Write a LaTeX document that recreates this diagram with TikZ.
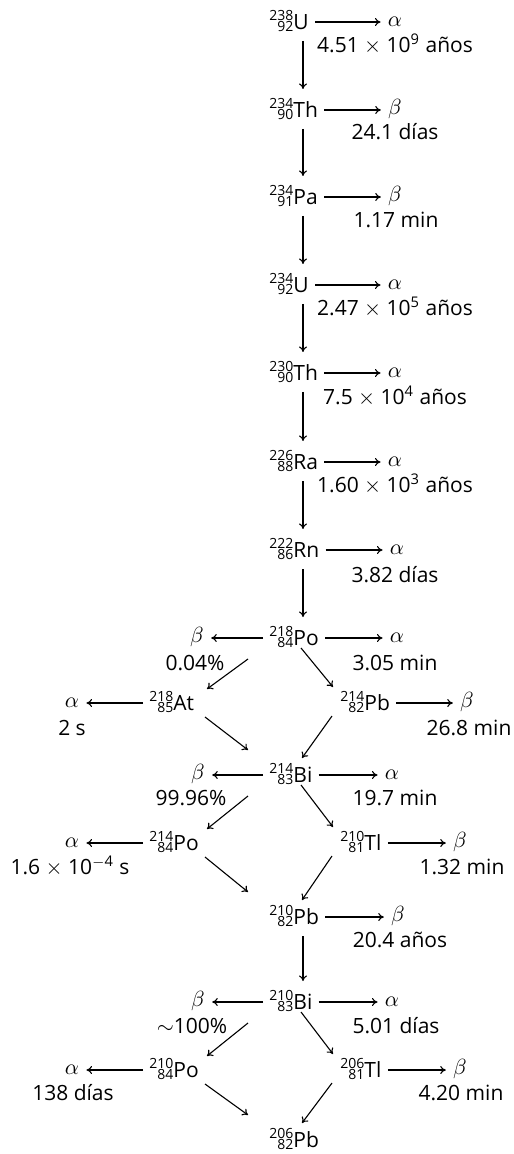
\documentclass[tikz,border=0pt]{standalone}
\usepackage{fontspec}
\setmainfont{Open Sans}
\usetikzlibrary{arrows.meta,positioning}
\newcommand{\nuc}[3]{\raisebox{-1.2pt}{\fontsize{7}{7}\selectfont\begin{tabular}[b]{@{}r@{}}#1\\[-1.6pt]#2\end{tabular}}#3}

\begin{document}
\begin{tikzpicture}[x=0.5pt,y=-0.5pt,>={To[length=2.8pt,width=4pt]},
  every node/.style={font=\fontsize{10.5}{12}\selectfont},
  nuc/.style={anchor=west,inner sep=0pt,text height=7.5pt,text depth=0pt},
  mode/.style={inner sep=0pt,text height=4.4pt,text depth=0pt},
  time/.style={inner sep=0pt,text height=7.5pt,text depth=0pt},
  decay/.style={->,line width=0.55pt,shorten <=3pt,shorten >=3.5pt},
  chain/.style={->,line width=0.55pt}]
\useasboundingbox (0,0) rectangle (513,1154);
\node[nuc] (u238) at (269,22) {\nuc{238}{92}{U}};
\node[mode] (u238m) at (395,22) {$\alpha$};
\node[time] (u238t) at (395,45) {4.51 $\times$ 10\textsuperscript{9} años};
\node[nuc] (th234) at (269,110) {\nuc{234}{90}{Th}};
\node[mode] (th234m) at (395,110) {$\beta$};
\node[time] (th234t) at (395,132) {24.1 días};
\node[nuc] (pa234) at (269,197) {\nuc{234}{91}{Pa}};
\node[mode] (pa234m) at (395,197) {$\beta$};
\node[time] (pa234t) at (396,220) {1.17 min};
\node[nuc] (u234) at (269,285) {\nuc{234}{92}{U}};
\node[mode] (u234m) at (395,285) {$\alpha$};
\node[time] (u234t) at (395,308) {2.47 $\times$ 10\textsuperscript{5} años};
\node[nuc] (th230) at (269,373) {\nuc{230}{90}{Th}};
\node[mode] (th230m) at (395,373) {$\alpha$};
\node[time] (th230t) at (395,397) {7.5 $\times$ 10\textsuperscript{4} años};
\node[nuc] (ra226) at (269,462) {\nuc{226}{88}{Ra}};
\node[mode] (ra226m) at (395,462) {$\alpha$};
\node[time] (ra226t) at (395,485) {1.60 $\times$ 10\textsuperscript{3} años};
\node[nuc] (rn222) at (269,550) {\nuc{222}{86}{Rn}};
\node[mode] (rn222m) at (397,550) {$\alpha$};
\node[time] (rn222t) at (395,575) {3.82 días};
\node[nuc] (po218) at (269,638) {\nuc{218}{84}{Po}};
\node[mode] (po218m) at (397,638) {$\alpha$};
\node[time] (po218t) at (395,663) {3.05 min};
\node[mode] (po218l) at (197,638) {$\beta$};
\node[time] (po218lt) at (195,663) {0.04\%};
\node[nuc] (at218) at (149,703) {\nuc{218}{85}{At}};
\node[mode] (at218m) at (72,703) {$\alpha$};
\node[time] (at218t) at (72,728) {2 s};
\node[nuc] (pb214) at (340,703) {\nuc{214}{82}{Pb}};
\node[mode] (pb214m) at (467,703) {$\beta$};
\node[time] (pb214t) at (469,728) {26.8 min};
\node[nuc] (bi214) at (269,775) {\nuc{214}{83}{Bi}};
\node[mode] (bi214m) at (392,775) {$\alpha$};
\node[time] (bi214t) at (395,798) {19.7 min};
\node[mode] (bi214l) at (198,775) {$\beta$};
\node[time] (bi214lt) at (191,798) {99.96\%};
\node[nuc] (po214) at (149,843) {\nuc{214}{84}{Po}};
\node[mode] (po214m) at (72,843) {$\alpha$};
\node[time] (po214t) at (70,867) {1.6 $\times$ 10\textsuperscript{$-$4} s};
\node[nuc] (tl210) at (340,843) {\nuc{210}{81}{Tl}};
\node[mode] (tl210m) at (460,843) {$\beta$};
\node[time] (tl210t) at (462,867) {1.32 min};
\node[nuc] (pb210) at (269,917) {\nuc{210}{82}{Pb}};
\node[mode] (pb210m) at (398,917) {$\beta$};
\node[time] (pb210t) at (400,940) {20.4 años};
\node[nuc] (bi210) at (269,1002) {\nuc{210}{83}{Bi}};
\node[mode] (bi210m) at (392,1002) {$\alpha$};
\node[time] (bi210t) at (396,1026) {5.01 días};
\node[mode] (bi210l) at (198,1002) {$\beta$};
\node[time] (bi210lt) at (192,1026) {$\sim$100\%};
\node[nuc] (po210) at (149,1070) {\nuc{210}{84}{Po}};
\node[mode] (po210m) at (72,1070) {$\alpha$};
\node[time] (po210t) at (73,1093) {138 días};
\node[nuc] (tl206) at (340,1070) {\nuc{206}{81}{Tl}};
\node[mode] (tl206m) at (460,1070) {$\beta$};
\node[time] (tl206t) at (461,1093) {4.20 min};
\node[nuc] (pb206) at (269,1140) {\nuc{206}{82}{Pb}};
\draw[decay] (u238) -- (u238m);
\draw[decay] (th234) -- (th234m);
\draw[decay] (pa234) -- (pa234m);
\draw[decay] (u234) -- (u234m);
\draw[decay] (th230) -- (th230m);
\draw[decay] (ra226) -- (ra226m);
\draw[decay] (rn222) -- (rn222m);
\draw[decay] (po218) -- (po218m);
\draw[decay] (po218) -- (po218l);
\draw[decay] (at218) -- (at218m);
\draw[decay] (pb214) -- (pb214m);
\draw[decay] (bi214) -- (bi214m);
\draw[decay] (bi214) -- (bi214l);
\draw[decay] (po214) -- (po214m);
\draw[decay] (tl210) -- (tl210m);
\draw[decay] (pb210) -- (pb210m);
\draw[decay] (bi210) -- (bi210m);
\draw[decay] (bi210) -- (bi210l);
\draw[decay] (po210) -- (po210m);
\draw[decay] (tl206) -- (tl206m);
\draw[chain] ([shift={(34,19)}]u238.west) -- ([shift={(34,-21)}]th234.west);
\draw[chain] ([shift={(34,19)}]th234.west) -- ([shift={(34,-21)}]pa234.west);
\draw[chain] ([shift={(34,19)}]pa234.west) -- ([shift={(34,-21)}]u234.west);
\draw[chain] ([shift={(34,19)}]u234.west) -- ([shift={(34,-21)}]th230.west);
\draw[chain] ([shift={(34,19)}]th230.west) -- ([shift={(34,-21)}]ra226.west);
\draw[chain] ([shift={(34,19)}]ra226.west) -- ([shift={(34,-21)}]rn222.west);
\draw[chain] ([shift={(34,19)}]rn222.west) -- ([shift={(34,-21)}]po218.west);
\draw[chain] ([shift={(34,19)}]pb210.west) -- ([shift={(34,-21)}]bi210.west);
\draw[chain] ([shift={(-21,21)}]po218.west) -- ([shift={(58,-14)}]at218.west);
\draw[chain] ([shift={(32,10)}]po218.west) -- ([shift={(-7,-16)}]pb214.west);
\draw[chain] ([shift={(56,14)}]at218.west) -- ([shift={(-21,-25)}]bi214.west);
\draw[chain] ([shift={(-8,13)}]pb214.west) -- ([shift={(33,-17)}]bi214.west);
\draw[chain] ([shift={(-21,21)}]bi214.west) -- ([shift={(58,-14)}]po214.west);
\draw[chain] ([shift={(32,10)}]bi214.west) -- ([shift={(-7,-16)}]tl210.west);
\draw[chain] ([shift={(56,14)}]po214.west) -- ([shift={(-21,-25)}]pb210.west);
\draw[chain] ([shift={(-8,13)}]tl210.west) -- ([shift={(33,-17)}]pb210.west);
\draw[chain] ([shift={(-21,21)}]bi210.west) -- ([shift={(58,-14)}]po210.west);
\draw[chain] ([shift={(32,10)}]bi210.west) -- ([shift={(-7,-16)}]tl206.west);
\draw[chain] ([shift={(56,14)}]po210.west) -- ([shift={(-21,-25)}]pb206.west);
\draw[chain] ([shift={(-8,13)}]tl206.west) -- ([shift={(33,-17)}]pb206.west);
\end{tikzpicture}
\end{document}
